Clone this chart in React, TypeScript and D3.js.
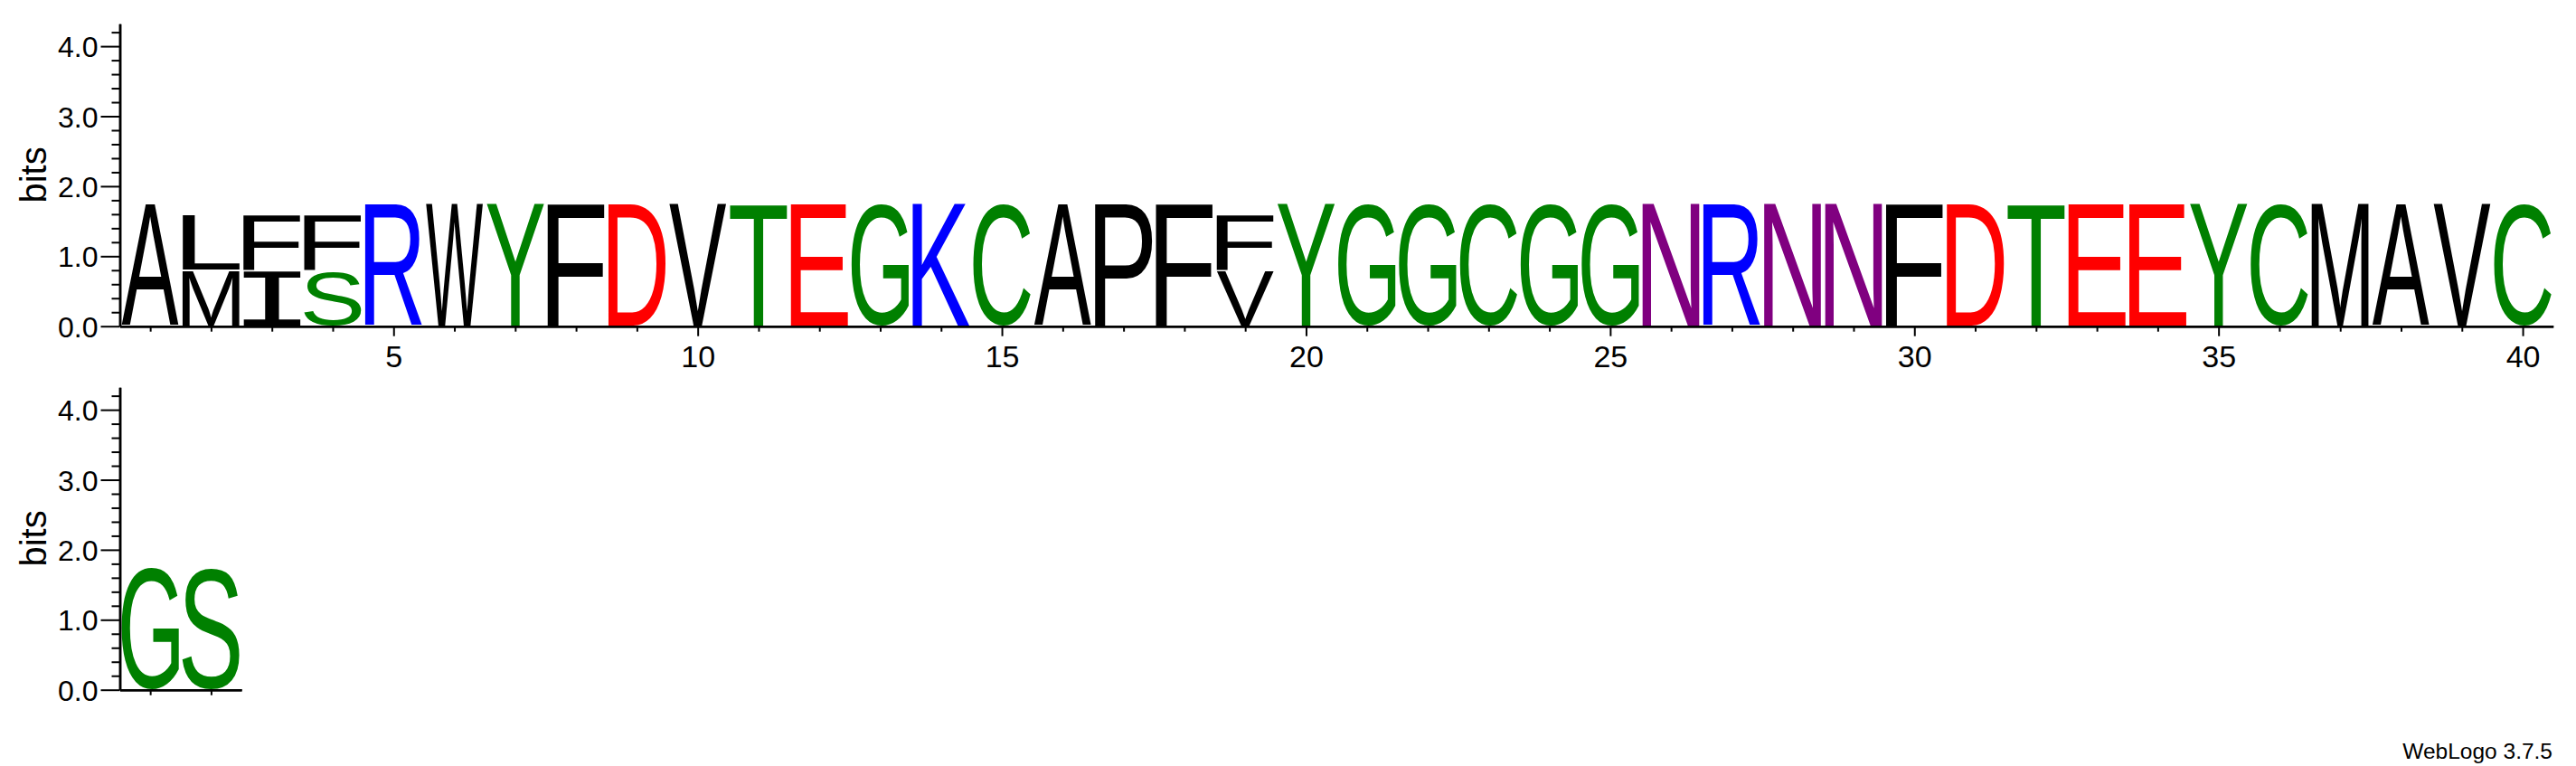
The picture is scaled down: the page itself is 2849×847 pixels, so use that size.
import React, { useEffect, useRef } from "react";
import * as d3 from "d3";

const positions = [
  1, 2, 3, 4, 5, 6, 7, 8, 9, 10, 11, 12, 13, 14, 15, 16, 17, 18, 19, 20,
  21, 22, 23, 24, 25, 26, 27, 28, 29, 30, 31, 32, 33, 34, 35, 36, 37, 38, 39, 40,
  41, 42,
];
// letter at the bottom of each stack
const baseLetters = [
  "A", "M", "I", "S", "R", "W", "Y", "F", "D", "V", "T", "E", "G", "K", "C", "A", "P", "F", "V", "Y",
  "G", "G", "C", "G", "G", "N", "R", "N", "N", "F", "D", "T", "E", "E", "Y", "C", "M", "A", "V", "C",
  "G", "S",
];
const baseBits = [
  1.757, 0.8, 0.8, 0.8, 1.757, 1.757, 1.757, 1.757, 1.757, 1.757, 1.757, 1.757, 1.757, 1.757, 1.757, 1.757, 1.757, 1.757, 0.8, 1.757,
  1.757, 1.757, 1.757, 1.757, 1.757, 1.757, 1.757, 1.757, 1.757, 1.757, 1.757, 1.757, 1.757, 1.757, 1.757, 1.757, 1.757, 1.757, 1.757, 1.757,
  1.757, 1.757,
];
// letter stacked on top (empty = none)
const topLetters = [
  "", "L", "F", "F", "", "", "", "", "", "", "", "", "", "", "", "", "", "", "F", "",
  "", "", "", "", "", "", "", "", "", "", "", "", "", "", "", "", "", "", "", "",
  "", "",
];
const topBits = [
  0, 0.796, 0.796, 0.796, 0, 0, 0, 0, 0, 0, 0, 0, 0, 0, 0, 0, 0, 0, 0.796, 0,
  0, 0, 0, 0, 0, 0, 0, 0, 0, 0, 0, 0, 0, 0, 0, 0, 0, 0, 0, 0,
  0, 0,
];
const yMajorTicks = [0, 1, 2, 3, 4];
const yMinorTicks = [0.2, 0.4, 0.6, 0.8, 1.2, 1.4, 1.6, 1.8, 2.2, 2.4, 2.6, 2.8, 3.2, 3.4, 3.6, 3.8, 4.2];
const xMajorTicks = [5, 10, 15, 20, 25, 30, 35, 40];
const rowRanges = [
  [1, 40],
  [41, 42],
];
const YMAX = Math.log2(20);

const colorOf = (l: string) => {
  if ("GSTYC".includes(l)) return "#008000";
  if ("NQ".includes(l)) return "#800080";
  if ("KRH".includes(l)) return "#0000ff";
  if ("DE".includes(l)) return "#ff0000";
  return "#000000";
};

const W = 2849;
const H = 847;
const AXIS_X = 132.5;
const SLOT = 67.28;
const PX_PER_BIT = 77.4;
const ROW_ZERO = [360.7, 762.7];
const SANS = '"Liberation Sans", Arial, Helvetica, sans-serif';

export default function App() {
  const ref = useRef<SVGSVGElement | null>(null);

  useEffect(() => {
    document.body.style.margin = "0";
    const svg = d3.select(ref.current);
    svg.selectAll("*").remove();

    const canvas = document.createElement("canvas");
    const ctx = canvas.getContext("2d")!;
    const FS = 200;
    const fontFor = (l: string) => (l === "I" ? '"DejaVu Sans Mono", monospace' : SANS);
    const measure = (l: string) => {
      ctx.font = `${FS}px ${fontFor(l)}`;
      const m = ctx.measureText(l);
      return {
        left: -m.actualBoundingBoxLeft,
        right: m.actualBoundingBoxRight,
        top: -m.actualBoundingBoxAscent,
        bottom: m.actualBoundingBoxDescent,
      };
    };

    rowRanges.forEach(([start, end], ri) => {
      const zeroY = ROW_ZERO[ri];
      const x = d3
        .scaleLinear()
        .domain([start - 0.5, end + 0.5])
        .range([AXIS_X, AXIS_X + (end - start + 1) * SLOT]);
      const y = d3
        .scaleLinear()
        .domain([0, YMAX])
        .range([zeroY, zeroY - YMAX * PX_PER_BIT]);

      const g = svg.append("g");

      // letters
      positions
        .filter((p) => p >= start && p <= end)
        .forEach((p) => {
          const i = positions.indexOf(p);
          const stack: { l: string; b: number }[] = [{ l: baseLetters[i], b: baseBits[i] }];
          if (topLetters[i]) stack.push({ l: topLetters[i], b: topBits[i] });
          let cum = 0;
          stack.forEach((s) => {
            const yTop = y(cum + s.b) + 1;
            const yBot = y(cum) - 1;
            cum += s.b;
            const x0 = x(p - 0.5) + 2;
            const x1 = x(p + 0.5) - 2;
            const m = measure(s.l);
            const sx = (x1 - x0) / (m.right - m.left);
            const sy = (yBot - yTop) / (m.bottom - m.top);
            g.append("text")
              .attr("font-family", fontFor(s.l))
              .attr("font-size", FS)
              .attr("fill", colorOf(s.l))
              .attr(
                "transform",
                `translate(${x0},${yTop}) scale(${sx},${sy}) translate(${-m.left},${-m.top})`
              )
              .text(s.l);
          });
        });

      // y axis
      const yAxisMinor = d3
        .axisLeft(y)
        .tickValues(yMinorTicks)
        .tickSize(9)
        .tickSizeOuter(0)
        .tickFormat(() => "");
      const yAxisMajor = d3
        .axisLeft(y)
        .tickValues(yMajorTicks)
        .tickSize(21)
        .tickSizeOuter(0)
        .tickPadding(3)
        .tickFormat(d3.format(".1f") as any);

      const gyMin = g.append("g").attr("transform", `translate(${AXIS_X},0)`).call(yAxisMinor);
      const gyMaj = g.append("g").attr("transform", `translate(${AXIS_X},0)`).call(yAxisMajor);
      [gyMin, gyMaj].forEach((a) => {
        a.selectAll("line").attr("stroke", "#000").attr("stroke-width", 2);
        a.select(".domain").attr("stroke", "#000").attr("stroke-width", 2.5);
        a.selectAll("text")
          .attr("font-family", SANS)
          .attr("font-size", 32)
          .attr("fill", "#000")
          .attr("dy", "0.36em");
      });

      // x axis
      const xAllTicks = positions.filter((p) => p >= start && p <= end);
      const xMinor = d3
        .axisBottom(x)
        .tickValues(xAllTicks.filter((p) => !xMajorTicks.includes(p)))
        .tickSize(6)
        .tickSizeOuter(0)
        .tickFormat(() => "");
      const xMajor = d3
        .axisBottom(x)
        .tickValues(xMajorTicks.filter((p) => p >= start && p <= end))
        .tickSize(11)
        .tickSizeOuter(0)
        .tickPadding(10)
        .tickFormat(d3.format("d") as any);
      const gxMin = g.append("g").attr("transform", `translate(0,${zeroY})`).call(xMinor);
      const gxMaj = g.append("g").attr("transform", `translate(0,${zeroY})`).call(xMajor);
      [gxMin, gxMaj].forEach((a) => {
        a.selectAll("line").attr("stroke", "#000").attr("stroke-width", 2);
        a.select(".domain").attr("stroke", "#000").attr("stroke-width", 2.5);
        a.selectAll("text").attr("font-family", SANS).attr("font-size", 34).attr("fill", "#000");
      });

      // "bits" label
      g.append("text")
        .attr("transform", `translate(50.5,${y(YMAX / 2)}) rotate(-90)`)
        .attr("text-anchor", "middle")
        .attr("font-family", SANS)
        .attr("font-size", 40)
        .attr("fill", "#000")
        .text("bits");
    });

    svg
      .append("text")
      .attr("x", 2823)
      .attr("y", 838.5)
      .attr("text-anchor", "end")
      .attr("font-family", SANS)
      .attr("font-size", 24.5)
      .attr("fill", "#000")
      .text("WebLogo 3.7.5");
  }, []);

  return (
    <svg
      ref={ref}
      width={W}
      height={H}
      viewBox={`0 0 ${W} ${H}`}
      style={{ display: "block", background: "#fff" }}
    />
  );
}
